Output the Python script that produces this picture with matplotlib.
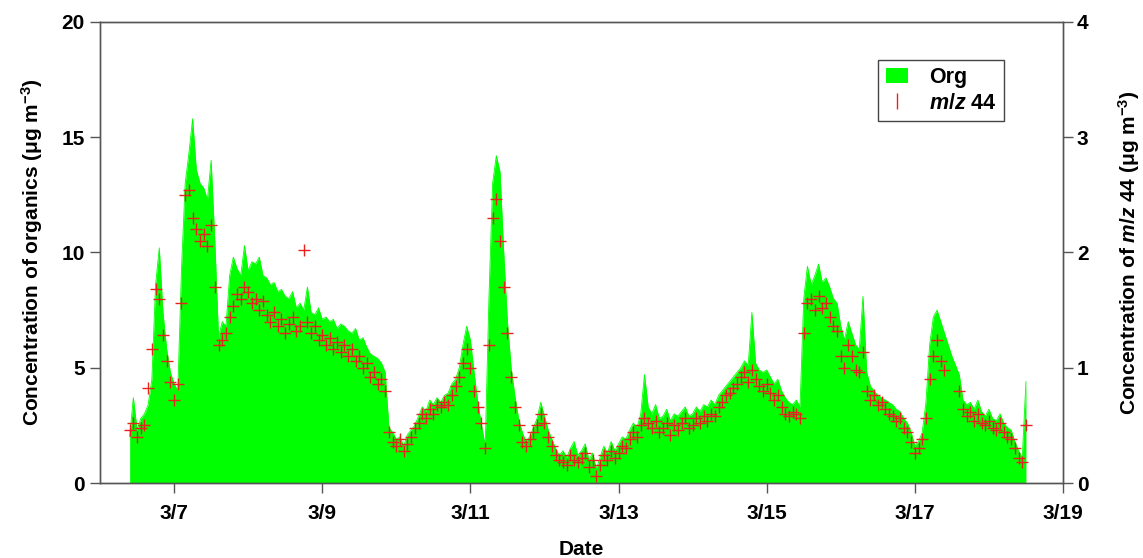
import numpy as np
import matplotlib
matplotlib.use('Agg')
import matplotlib.pyplot as plt
from matplotlib.patches import Patch
from matplotlib.lines import Line2D

plt.rcParams['font.family'] = ['Liberation Sans', 'DejaVu Sans']
plt.rcParams['font.weight'] = 'bold'
plt.rcParams['mathtext.fontset'] = 'custom'
plt.rcParams['mathtext.rm'] = 'Liberation Sans:bold'
plt.rcParams['mathtext.it'] = 'Liberation Sans:italic:bold'

# sampling: day of March, every 0.05 day from 3/6.40 to 3/18.50
t_start = 6.40
t_step = 0.05

# organics, ug m-3 (left axis)
org = [2.0, 3.7, 2.3, 2.8, 3.0, 3.4, 4.5, 8.6, 10.2, 7.4, 5.8, 4.8,
       4.3, 4.0, 9.3, 13.0, 14.3, 15.8, 13.6, 13.0, 12.8, 12.3, 14.0, 10.5, 6.3, 7.0, 6.8, 9.0, 9.8, 9.3, 9.0, 10.3,
       9.2, 9.6, 9.5, 9.8, 9.0, 8.9, 8.6, 8.7, 8.3, 8.4, 8.1, 8.0, 8.3, 7.6, 7.8, 7.5, 8.5, 7.4, 7.3, 7.6,
       7.1, 7.2, 7.0, 7.1, 6.7, 6.9, 6.8, 6.6, 6.5, 6.7, 6.2, 6.3, 5.9, 5.6, 5.5, 5.4, 5.2, 4.8, 2.4, 2.2,
       1.9, 2.0, 1.6, 2.1, 2.3, 2.5, 2.9, 3.3, 3.1, 3.6, 3.4, 3.7, 3.5, 3.8, 3.9, 4.3, 4.5, 5.0, 6.0, 6.8,
       6.2, 4.8, 3.5, 2.5, 1.6, 8.0, 13.0, 14.2, 13.5, 10.0, 7.0, 5.0, 3.8, 2.8, 2.2, 1.8, 2.0, 2.4, 2.8, 3.5,
       2.9, 2.3, 1.9, 1.5, 1.2, 1.4, 1.1, 1.5, 1.8, 1.2, 1.4, 1.7, 1.0, 1.3, 0.6, 1.1, 1.6, 1.3, 1.8, 1.4,
       1.7, 2.0, 1.9, 2.3, 2.6, 2.4, 3.0, 4.7, 3.3, 3.0, 3.4, 2.8, 2.9, 3.2, 2.7, 3.0, 2.9, 3.1, 3.3, 2.9,
       3.0, 3.3, 3.1, 3.4, 3.3, 3.6, 3.4, 3.8, 4.0, 4.2, 4.4, 4.6, 4.8, 5.0, 5.3, 5.1, 7.4, 5.2, 4.9, 4.8,
       4.9, 4.6, 4.3, 4.5, 4.0, 3.7, 3.5, 3.4, 3.6, 3.3, 8.0, 9.4, 8.6, 9.0, 9.5, 8.7, 8.9, 8.5, 8.0, 7.8,
       6.8, 6.2, 7.0, 6.5, 6.0, 5.8, 8.1, 4.8, 4.2, 4.0, 3.8, 3.7, 3.6, 3.5, 3.4, 3.2, 3.1, 2.8, 2.6, 2.2,
       1.6, 1.8, 2.2, 3.5, 6.0, 7.2, 7.5, 7.0, 6.5, 6.0, 5.5, 5.1, 4.7, 3.6, 3.4, 3.5, 3.2, 3.6, 3.1, 2.9,
       3.2, 2.8, 2.7, 3.0, 2.6, 2.4, 2.3, 1.8, 1.4, 1.1, 4.4]

# m/z 44, ug m-3 (right axis)
nan = np.nan
mz44 = [0.46, 0.52, 0.40, 0.48, 0.50, 0.82, 1.16, 1.68, 1.60, 1.28, 1.06, 0.88,
        0.72, 0.86, 1.56, 2.50, 2.54, 2.30, 2.20, 2.10, 2.16, 2.06, 2.24, 1.70, 1.20, 1.24, 1.30, 1.44, 1.54, 1.64, 1.60, 1.70,
        1.66, 1.56, 1.60, 1.50, 1.58, 1.46, 1.40, 1.48, 1.36, 1.42, 1.30, 1.38, 1.44, 1.32, 1.36, 2.02, 1.40, 1.30, 1.36, 1.24,
        1.28, 1.20, 1.26, 1.16, 1.22, 1.14, 1.20, 1.10, 1.16, 1.06, 1.10, 1.00, 1.04, 0.92, 0.96, 0.86, 0.90, 0.80, 0.44, 0.36,
        0.32, 0.38, 0.28, 0.34, 0.40, 0.48, 0.52, 0.60, 0.56, 0.64, 0.60, 0.68, 0.66, 0.70, 0.68, 0.76, 0.84, 0.92, 1.04, 1.16,
        1.00, 0.80, 0.66, 0.52, 0.30, 1.20, 2.30, 2.46, 2.10, 1.70, 1.30, 0.92, 0.66, 0.50, 0.36, 0.32, 0.38, 0.44, 0.50, 0.60,
        0.52, 0.40, 0.32, 0.24, 0.20, 0.18, 0.16, 0.24, 0.20, 0.18, 0.22, 0.26, 0.14, 0.20, 0.06, 0.16, 0.24, 0.20, 0.28, 0.22,
        0.26, 0.32, 0.30, 0.38, 0.44, 0.40, 0.50, 0.56, 0.52, 0.48, 0.54, 0.44, 0.48, 0.52, 0.42, 0.50, 0.46, 0.52, 0.56, 0.48,
        0.50, 0.56, 0.52, 0.58, 0.54, 0.60, 0.58, 0.66, 0.70, 0.76, 0.78, 0.82, 0.86, 0.92, 0.96, 0.88, 0.98, 0.90, 0.84, 0.80,
        0.86, 0.78, 0.72, 0.76, 0.66, 0.60, 0.58, 0.62, 0.60, 0.56, 1.30, 1.56, 1.60, 1.50, 1.62, 1.52, 1.56, 1.44, 1.36, 1.32,
        1.10, 1.00, 1.20, 1.10, 0.98, 0.96, 1.14, 0.80, 0.72, 0.76, 0.68, 0.70, 0.64, 0.60, 0.58, 0.54, 0.56, 0.48, 0.44, 0.36,
        0.26, 0.30, 0.38, 0.56, 0.90, 1.10, 1.24, 1.06, 0.98, nan, nan, nan, 0.80, 0.64, 0.58, 0.62, 0.54, 0.60, 0.52, 0.50,
        0.54, 0.48, 0.46, 0.52, 0.44, 0.40, 0.38, 0.30, 0.22, 0.18, 0.50]

xticks = [7, 9, 11, 13, 15, 17, 19]
xticklabels = ['3/7', '3/9', '3/11', '3/13', '3/15', '3/17', '3/19']

t = t_start + t_step * np.arange(len(org))

fig = plt.figure(figsize=(11.43, 5.58), dpi=100)
ax1 = fig.add_axes([0.0875, 0.1344, 0.8425, 0.8262])
ax2 = ax1.twinx()

ax1.fill_between(t, 0, org, color='#00FF00', lw=0)
ax1.plot(t, org, color='#00FF00', lw=0.6)
ax2.plot(t, mz44, ls='none', marker='+', ms=9, mew=1.0, color='#E8201E')

ax1.set_xlim(6, 19)
ax1.set_ylim(0, 20)
ax2.set_ylim(0, 4)
ax1.set_xticks(xticks)
ax1.set_xticklabels(xticklabels)
ax1.set_yticks([0, 5, 10, 15, 20])
ax2.set_yticks([0, 1, 2, 3, 4])

for ax in (ax1, ax2):
    ax.tick_params(direction='out', length=7, width=1, labelsize=15, color='#555555')
    for s in ax.spines.values():
        s.set_color('#555555')
        s.set_linewidth(1)
ax1.tick_params(axis='x', length=7, pad=8)
ax1.tick_params(axis='y', pad=4)
ax2.tick_params(axis='y', length=7, pad=3)

ax1.set_xlabel('Date', fontsize=15, fontweight='bold', labelpad=12)
ax1.set_ylabel('Concentration of organics (\u03bcg m$^{-3}$)', fontsize=15, fontweight='bold', labelpad=12)
ax2.set_ylabel('Concentration of $m/z$ 44 (\u03bcg m$^{-3}$)', fontsize=15, fontweight='bold',
               rotation=90, labelpad=20)

handles = [Patch(facecolor='#00FF00', edgecolor='none'),
           Line2D([], [], ls='none', marker='|', ms=11, mew=1, color='#E8201E')]
leg = ax2.legend(handles, ['Org', '$m/z$ 44'], loc='upper right', bbox_to_anchor=(0.939, 0.918),
                 fancybox=False, framealpha=1, edgecolor='#444444', prop={'size': 15.5, 'weight': 'bold'},
                 handlelength=1.0, handletextpad=1.0, borderpad=0.35, labelspacing=0.2,
                 borderaxespad=0)
leg.get_frame().set_linewidth(1)

fig.savefig('out.png', dpi=100)
